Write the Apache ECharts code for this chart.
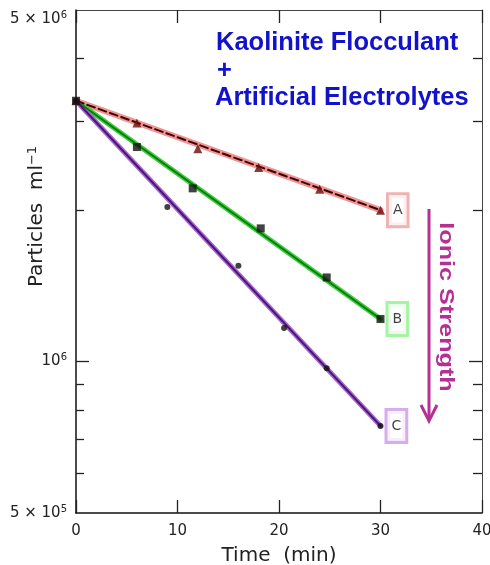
<!DOCTYPE html>
<html>
<head>
<meta charset="utf-8">
<script src="https://cdn.jsdelivr.net/npm/echarts@6/dist/echarts.min.js"></script>
<style>
  html, body { margin: 0; padding: 0; background: #fff; }
  #chart { width: 490px; height: 565px; }
</style>
</head>
<body>
<div id="chart"></div>
<script>
// ---- data ----
const fitX = [0, 30];
const fitA = [3.3e6, 2.0e6];
const fitB = [3.3e6, 1.215e6];
const fitC = [3.3e6, 7.45e5];

const timeA = [0, 6, 12, 18, 24, 30];
const valA  = [3.3e6, 2.98e6, 2.65e6, 2.43e6, 2.2e6, 2.0e6];
const timeB = [0, 6, 11.5, 18.2, 24.7, 30];
const valB  = [3.3e6, 2.67e6, 2.21e6, 1.84e6, 1.47e6, 1.215e6];
const timeC = [0, 9, 16, 20.5, 24.7, 30];
const valC  = [3.3e6, 2.03e6, 1.55e6, 1.166e6, 9.7e5, 7.45e5];

const seriesLabels = ['A', 'B', 'C'];
const xTicks = [0, 10, 20, 30, 40];
const yLabelVals = [5e5, 1e6, 5e6];
const yMajorTicks = [1e6];
const yMinorTicks = [6e5, 7e5, 8e5, 9e5, 2e6, 3e6, 4e6];

// ---- helpers ----
const FONT = 'DejaVu Sans';
const TXT = '#222';

function pairs(xs, ys) { return xs.map((x, i) => [x, ys[i]]); }

function yFormatter(v) {
  const e = Math.floor(Math.log10(v) + 1e-9);
  const m = Math.round(v / Math.pow(10, e));
  const txt = (m === 1 ? '' : m + ' \u00d7 ') + '10{s|' + e + '}';
  if (v > 2e6) return '{gap| }\n' + txt;
  return txt;
}

function yAxisDef(pos, ticks, len, showLine, showLabel, lineColor, lineWidth) {
  const ax = {
    type: 'log', logBase: 10, min: 5e5, max: 5e6, position: pos,
    splitLine: { show: false },
    axisLine: { show: showLine, onZero: false, lineStyle: { color: lineColor, width: lineWidth } },
    axisTick: { show: true, inside: true, length: len, customValues: ticks,
                lineStyle: { color: '#222', width: 1.3 } },
    axisLabel: { show: false }
  };
  if (showLabel) {
    ax.axisLabel = {
      show: true, customValues: yLabelVals, formatter: yFormatter, margin: 9,
      color: TXT, fontFamily: FONT, fontSize: 15, lineHeight: 18,
      rich: {
        s:   { fontFamily: FONT, fontSize: 10, lineHeight: 10, verticalAlign: 'top', color: TXT },
        gap: { fontFamily: FONT, fontSize: 10, lineHeight: 18, color: TXT }
      }
    };
    ax.name = 'Particles  ml{s|\u22121}';
    ax.nameLocation = 'middle';
    ax.nameRotate = 90;
    ax.nameGap = 28;
    ax.nameMoveOverlap = false;
    ax.nameTextStyle = {
      color: TXT, fontFamily: FONT, fontSize: 20, lineHeight: 22, padding: [0, 0, 0, 90],
      rich: { s: { fontFamily: FONT, fontSize: 13, lineHeight: 13, verticalAlign: 'top', color: TXT } }
    };
  }
  return ax;
}

function lineSeries(ys, color, width, dashed, z) {
  return {
    type: 'line', xAxisIndex: 0, yAxisIndex: 0, data: pairs(fitX, ys),
    symbol: 'none', silent: true, z: z,
    lineStyle: { color: color, width: width, type: dashed ? [8, 4] : 'solid', cap: 'round' }
  };
}

function markerSeries(xs, ys, symbol, size, color, label, boxColor) {
  const data = pairs(xs, ys).map((p, i) => {
    const item = { value: p };
    if (i === xs.length - 1) {
      item.label = {
        show: true, position: 'right', distance: 4, formatter: label,
        color: '#111', fontFamily: FONT, fontSize: 14, lineHeight: 15,
        padding: [8, 4, 7, 4], borderColor: boxColor, borderWidth: 3,
        backgroundColor: '#fff'
      };
    }
    return item;
  });
  return {
    type: 'scatter', xAxisIndex: 0, yAxisIndex: 0, data: data,
    symbol: symbol, symbolSize: size, z: 10,
    itemStyle: { color: color }
  };
}

const chart = echarts.init(document.getElementById('chart'), null, { renderer: 'canvas' });

const option = {
  backgroundColor: '#fff',
  animation: false,
  grid: { left: 76, right: 8, top: 10, bottom: 52, containLabel: false, outerBoundsMode: 'none' },
  xAxis: [
    {
      type: 'value', min: 0, max: 40, interval: 10, position: 'bottom',
      splitLine: { show: false },
      axisLine: { show: true, onZero: false, lineStyle: { color: '#111', width: 1.5 } },
      axisTick: { show: true, inside: true, length: 13, lineStyle: { color: '#222', width: 1.3 } },
      axisLabel: { color: TXT, fontFamily: FONT, fontSize: 15, margin: 11,
                   customValues: xTicks },
      name: 'Time  (min)', nameLocation: 'middle', nameGap: 33, nameMoveOverlap: false,
      nameTextStyle: { color: TXT, fontFamily: FONT, fontSize: 20 }
    },
    {
      type: 'value', min: 0, max: 40, interval: 10, position: 'top',
      splitLine: { show: false },
      axisLine: { show: true, onZero: false, lineStyle: { color: '#444', width: 1 } },
      axisTick: { show: true, inside: true, length: 13, lineStyle: { color: '#222', width: 1.3 } },
      axisLabel: { show: false }
    }
  ],
  yAxis: [
    yAxisDef('left', yMajorTicks, 13, true, true, '#111', 1.5),
    yAxisDef('left', yMinorTicks, 8, false, false, '#111', 1.5),
    yAxisDef('right', yMajorTicks, 13, true, false, '#444', 1),
    yAxisDef('right', yMinorTicks, 9, false, false, '#444', 1)
  ],
  series: [
    lineSeries(fitA, '#f29494', 6, false, 2),
    lineSeries(fitA, '#3a0505', 2, true, 3),
    lineSeries(fitB, '#3ccf3c', 5, false, 2),
    lineSeries(fitB, '#0d7a0d', 2, false, 3),
    lineSeries(fitC, '#a765d6', 5, false, 2),
    lineSeries(fitC, '#4a1670', 2, false, 3),
    markerSeries(timeA, valA, 'triangle', 9, '#6a0a0a', seriesLabels[0], '#eba0a0'),
    markerSeries(timeB, valB, 'rect', 8, '#111', seriesLabels[1], '#8ff08f'),
    markerSeries(timeC, valC, 'circle', 6, '#111', seriesLabels[2], '#c99ae6')
  ],
  graphic: [
    { type: 'text', x: 216, y: 43, silent: true,
      style: { text: 'Kaolinite Flocculant', font: 'bold 25.5px "Liberation Sans", Arial, sans-serif',
               fill: '#1212cc', align: 'left', verticalAlign: 'middle', textAlign: 'left', textVerticalAlign: 'middle' } },
    { type: 'text', x: 217, y: 71, silent: true,
      style: { text: '+', font: 'bold 25.5px "Liberation Sans", Arial, sans-serif',
               fill: '#1212cc', align: 'left', verticalAlign: 'middle', textAlign: 'left', textVerticalAlign: 'middle' } },
    { type: 'text', x: 215, y: 98, silent: true,
      style: { text: 'Artificial Electrolytes', font: 'bold 25.5px "Liberation Sans", Arial, sans-serif',
               fill: '#1212cc', align: 'left', verticalAlign: 'middle', textAlign: 'left', textVerticalAlign: 'middle' } },
    { type: 'text', x: 446, y: 307, rotation: -Math.PI / 2, scaleX: 1.2, silent: true,
      style: { text: 'Ionic Strength', font: 'bold 21px "Liberation Sans", Arial, sans-serif',
               fill: '#b52f95', align: 'center', verticalAlign: 'middle', textAlign: 'center', textVerticalAlign: 'middle' } },
    { type: 'line', silent: true,
      shape: { x1: 429, y1: 209, x2: 429, y2: 420 },
      style: { stroke: '#b52f95', lineWidth: 3 } },
    { type: 'polyline', silent: true,
      shape: { points: [[421, 405], [429, 421], [437, 405]] },
      style: { stroke: '#b52f95', lineWidth: 3, fill: null, lineJoin: 'miter' } }
  ]
};

chart.setOption(option);
</script>
</body>
</html>
